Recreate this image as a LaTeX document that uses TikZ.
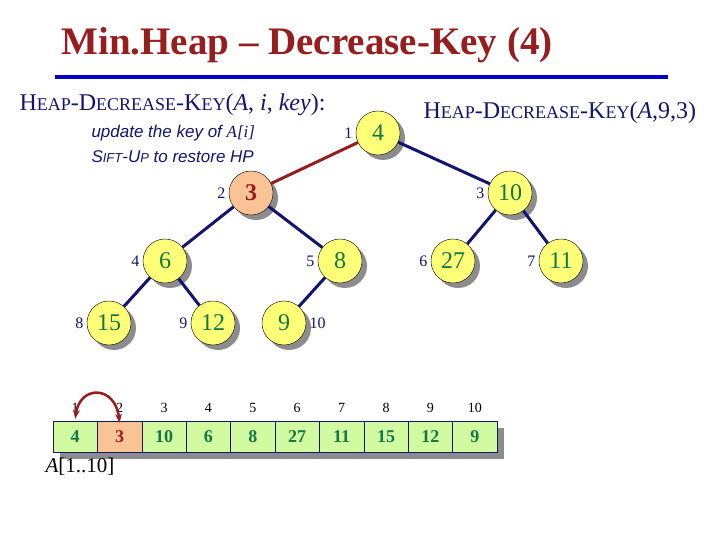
\documentclass[tikz,border=0pt]{standalone}
\usepackage{fontspec}
\setmainfont{Liberation Serif}
\setsansfont{Liberation Sans}
\usetikzlibrary{arrows.meta,shadows}
\definecolor{keyred}{RGB}{150,30,30}
\definecolor{navy}{RGB}{20,20,110}
\definecolor{numgreen}{RGB}{20,120,70}
\definecolor{nodeyellow}{RGB}{255,255,120}
\definecolor{peach}{RGB}{250,195,150}
\definecolor{cellgreen}{RGB}{210,250,160}
% fake small caps
\newcommand{\fsc}[2]{#1{\fontsize{18}{20}\selectfont #2}}
\tikzset{
  heapnode/.style={circle,draw=black,fill=nodeyellow,minimum size=44pt,inner sep=0pt,
    text=numgreen,font=\fontsize{24}{26}\selectfont,
    drop shadow={shadow xshift=5pt,shadow yshift=-5pt,fill=black!45,opacity=1}},
  hotnode/.style={heapnode,fill=peach,text=keyred,font=\fontsize{24}{26}\selectfont\bfseries},
  idx/.style={text=navy,font=\fontsize{16}{18}\selectfont},
  tree/.style={draw=navy,line width=3pt},
  cell/.style={draw=navy,fill=cellgreen,minimum width=44.4pt,minimum height=31pt,inner sep=0pt,
    text=numgreen,font=\fontsize{18}{20}\selectfont\bfseries},
  cidx/.style={font=\fontsize{14}{16}\selectfont}
}
\begin{document}
\begin{tikzpicture}[x=1pt,y=-1pt]
\useasboundingbox (0,0) rectangle (720,540);
% title
\node[anchor=west,text=keyred,font=\fontsize{39}{43}\selectfont\bfseries] (title) at (58,45) {Min.Heap -- Decrease-Key (4)};
\draw[blue!80!black,line width=4pt] (55,77) -- (668,77);
\node[anchor=west,text=navy,font=\fontsize{24}{27}\selectfont] (proc) at (16,105) {\fsc{H}{EAP}-\fsc{D}{ECREASE}-\fsc{K}{EY}(\textit{A}, \textit{i}, \textit{key}):};
\node[anchor=west,text=navy,font=\sffamily\itshape\fontsize{17}{19}\selectfont] (upd) at (88,133) {update the key of \textrm{\textit{A}[\textit{i}]}};
\node[anchor=west,text=navy,font=\sffamily\itshape\fontsize{17}{19}\selectfont] (sift) at (88,157) {S{\fontsize{13}{15}\selectfont IFT}-U{\fontsize{13}{15}\selectfont P} to restore HP};
\node[anchor=west,text=navy,font=\fontsize{24}{27}\selectfont] (call) at (420,113) {\fsc{H}{EAP}-\fsc{D}{ECREASE}-\fsc{K}{EY}(\textit{A},9,3)};
% heap
\node[heapnode] (n1) at (378,133) {4};
\node[hotnode] (n2) at (251,193) {3};
\node[heapnode] (n3) at (510,193) {10};
\node[heapnode] (n4) at (165,261) {6};
\node[heapnode] (n5) at (340,261) {8};
\node[heapnode] (n6) at (453,261) {27};
\node[heapnode] (n7) at (561,261) {11};
\node[heapnode] (n8) at (109,323) {15};
\node[heapnode] (n9) at (213,323) {12};
\node[heapnode] (n10) at (284,323) {9};
\foreach \i in {1,...,9} \node[idx,left=0pt] at (n\i.west) {\i};
\node[idx,right=0pt] at (n10.east) {10};
\draw[draw=keyred,line width=3pt] (n1) -- (n2);
\draw[tree] (n1) -- (n3);
\draw[tree] (n2) -- (n4);
\draw[tree] (n2) -- (n5);
\draw[tree] (n3) -- (n6);
\draw[tree] (n3) -- (n7);
\draw[tree] (n4) -- (n8);
\draw[tree] (n4) -- (n9);
\draw[tree] (n5) -- (n10);
% array
\fill[black!45] (60,428) rectangle (504,459);
\foreach \v [count=\k] in {4,3,10,6,8,27,11,15,12,9} {
  \node[cell] (c\k) at ({53+44.4*(\k-0.5)},436.5) {\v};
  \node[cidx] (ci\k) at ({53+44.4*(\k-0.5)},408) {\k};
}
\node[cell,fill=peach,text=keyred] at (c2) {3};
\node[anchor=west,font=\fontsize{21}{24}\selectfont] (arr) at (42,467) {\textit{A}[1..10]};
\draw[{Stealth[length=9pt]}-{Stealth[length=9pt]},draw=keyred,line width=2.5pt]
  (c1.north) ++(0,-2) .. controls (80,385) and (115,385) .. ([yshift=-2]c2.north);
\end{tikzpicture}
\end{document}
